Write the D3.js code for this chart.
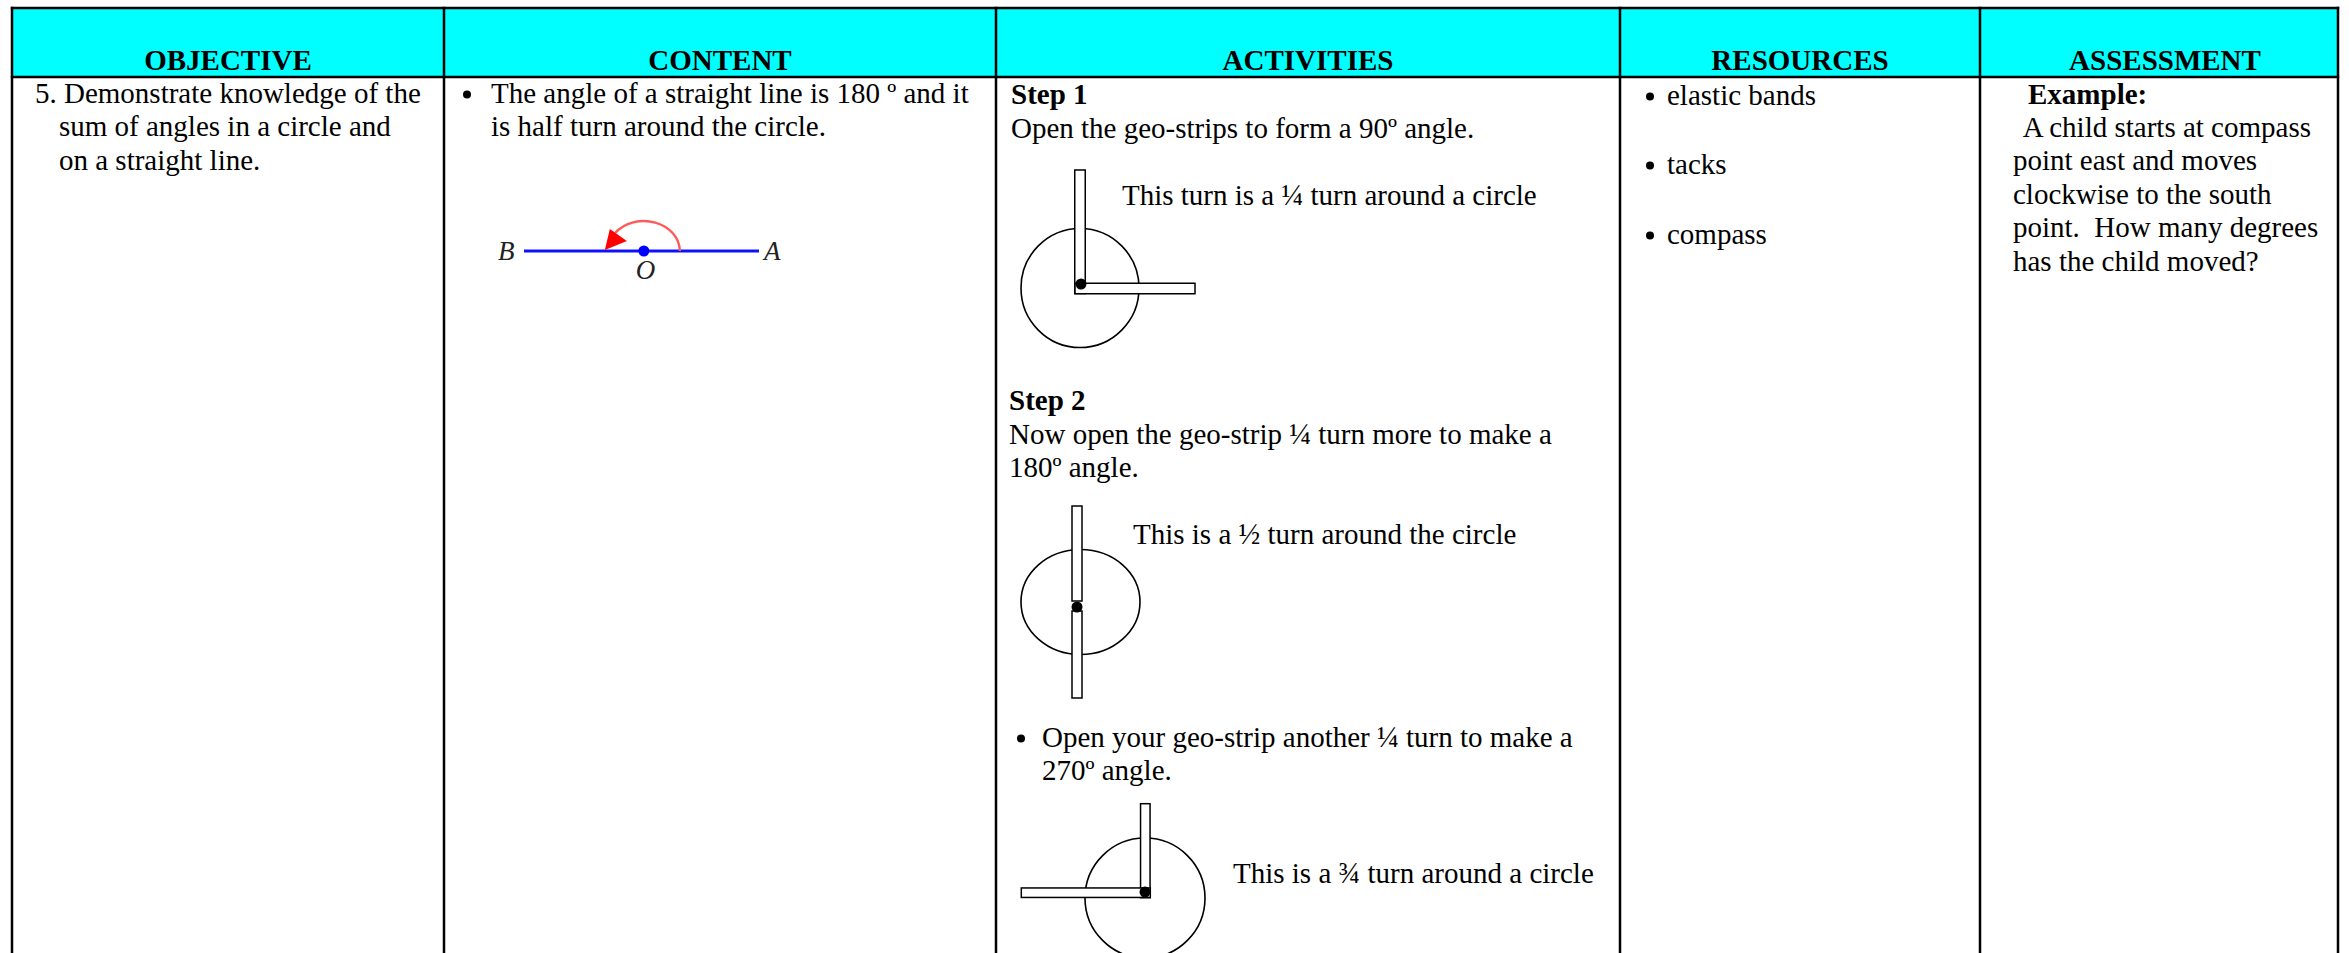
<!DOCTYPE html>
<html><head><meta charset="utf-8">
<script src="https://cdn.jsdelivr.net/npm/d3@7"></script>
<style>
body{margin:0;background:#fff}
svg{display:block}
text{font-family:"Liberation Serif","Times New Roman",serif;fill:#000;white-space:pre}
</style>
</head><body>
<svg id="c" width="2349" height="953"></svg>
<script>
// ---------- content (data) ----------
const headers = ["OBJECTIVE", "CONTENT", "ACTIVITIES", "RESOURCES", "ASSESSMENT"];
const objectiveLines = ["5. Demonstrate knowledge of the", "sum of angles in a circle and", "on a straight line."];
const contentLines = ["The angle of a straight line is 180 º and it", "is half turn around the circle."];
const lineLabels = ["B", "O", "A"];
const stepTitles = ["Step 1", "Step 2"];
const step1Lines = ["Open the geo-strips to form a 90º angle."];
const step2Lines = ["Now open the geo-strip ¼ turn more to make a", "180º angle."];
const step3Lines = ["Open your geo-strip another ¼ turn to make a", "270º angle."];
const turnAngles = [90, 180, 270];
const turnCaptions = ["This turn is a ¼ turn around a circle", "This is a ½ turn around the circle", "This is a ¾ turn around a circle"];
const resources = ["elastic bands", "tacks", "compass"];
const assessmentTitle = "Example:";
const assessmentLines = [" A child starts at compass", "point east and moves", "clockwise to the south", "point.  How many degrees", "has the child moved?"];

// ---------- layout ----------
const W = 2349, H = 953;
const svg = d3.select("#c");
const edges = [12, 444, 996, 1620, 1980, 2338];
const tableTop = 8, headBottom = 77;
const FS = 29, LH = 33.4;
const col = d3.scaleOrdinal().domain(headers).range(edges.slice(0, 5).map((e, i) => (e + edges[i + 1]) / 2));

svg.append("rect").attr("x", edges[0]).attr("y", tableTop).attr("width", edges[5] - edges[0]).attr("height", headBottom - tableTop).attr("fill", "#00ffff");

const g = svg.append("g");
headers.forEach((h, i) => {
  g.append("text").attr("x", col(h) + (i === 4 ? 6 : 0)).attr("y", 70).attr("text-anchor", "middle")
    .attr("font-size", FS).attr("font-weight", "bold").text(h);
});

function block(x, y, lines, opts = {}) {
  lines.forEach((t, i) => {
    g.append("text").attr("x", (i === 0 && opts.x0 !== undefined) ? opts.x0 : x).attr("y", y + i * (opts.lh || LH))
      .attr("font-size", FS).attr("font-weight", opts.bold ? "bold" : null).text(t);
  });
}
function bullet(x, y) {
  g.append("circle").attr("cx", x).attr("cy", y - 8.5).attr("r", 4).attr("fill", "#000");
}

// Objective
block(59, 103, objectiveLines, {x0: 35});
// Content
bullet(467, 103);
block(491, 103, contentLines);

// straight-line diagram
const lx = d3.scaleLinear().domain([0, 1]).range([524, 759]);
const ly = 251;
const cx = lx(0.51);
g.append("line").attr("x1", lx(0)).attr("x2", lx(1)).attr("y1", ly).attr("y2", ly)
  .attr("stroke", "#1010ff").attr("stroke-width", 3);
const arcRx = 36, arcRy = 30;
const pt = a => [cx + arcRx * Math.cos(a * Math.PI / 180), ly - arcRy * Math.sin(a * Math.PI / 180)];
const p0 = pt(0), p1 = pt(143);
g.append("path").attr("d", `M${p0[0]},${p0[1]} A${arcRx},${arcRy} 0 0 0 ${p1[0]},${p1[1]}`)
  .attr("fill", "none").attr("stroke", "#ff5a5a").attr("stroke-width", 2.4);
g.append("path").attr("d", `M${cx - 39},${ly - 1} L${cx - 34},${ly - 22} L${cx - 17},${ly - 10} Z`).attr("fill", "#ff0000");
g.append("circle").attr("cx", cx).attr("cy", ly).attr("r", 5.5).attr("fill", "#0000ff");
const lbl = [[lx(0) - 26, ly + 9], [cx - 8, ly + 28], [lx(1) + 5, ly + 9]];
lineLabels.forEach((t, i) => g.append("text").attr("x", lbl[i][0]).attr("y", lbl[i][1])
  .attr("font-size", 27).attr("font-style", "italic").style("fill", "#222").text(t));

// Activities
block(1011, 104, [stepTitles[0]], {bold: true});
block(1011, 138, step1Lines);
block(1009, 410, [stepTitles[1]], {bold: true});
block(1009, 444, step2Lines);
bullet(1021, 747);
block(1042, 747, step3Lines);

// geo-strip diagrams
const diagrams = [
  {px: 1080, py: 288.5, w: 10.5, L1: 118.5, L2: 115, o1: 5, o2: 5, ccx: 1080, ccy: 288, rx: 59, ry: 59.5, dot: [1081, 284], tx: 1122, ty: 205},
  {px: 1077, py: 606, w: 10, L1: 100, L2: 92, o1: -5, o2: -5, ccx: 1080.5, ccy: 602, rx: 59.5, ry: 52.5, dot: [1077, 607], tx: 1133, ty: 544},
  {px: 1145.3, py: 892.7, w: 9.5, L1: 89, L2: 124, o1: 5, o2: 5, ccx: 1145, ccy: 898, rx: 60, ry: 60, dot: [1145, 892], tx: 1233, ty: 883}
];
diagrams.forEach((d, i) => {
  const dg = g.append("g");
  dg.append("ellipse").attr("cx", d.ccx).attr("cy", d.ccy).attr("rx", d.rx).attr("ry", d.ry)
    .attr("fill", "none").attr("stroke", "#000").attr("stroke-width", 1.6);
  dg.append("rect").attr("x", d.px - d.w / 2).attr("y", d.py - d.L1).attr("width", d.w).attr("height", d.L1 + d.o1)
    .attr("fill", "#fff").attr("stroke", "#000").attr("stroke-width", 1.5);
  dg.append("rect").attr("x", d.px - d.w / 2).attr("y", d.py - d.L2).attr("width", d.w).attr("height", d.L2 + d.o2)
    .attr("transform", `rotate(${turnAngles[i]},${d.px},${d.py})`)
    .attr("fill", "#fff").attr("stroke", "#000").attr("stroke-width", 1.5);
  dg.append("circle").attr("cx", d.dot[0]).attr("cy", d.dot[1]).attr("r", 5.5).attr("fill", "#000");
  dg.append("text").attr("x", d.tx).attr("y", d.ty).attr("font-size", FS).text(turnCaptions[i]);
});

// Resources
const resY = [105, 174, 244];
resources.forEach((r, i) => { bullet(1650, resY[i]); block(1667, resY[i], [r]); });

// Assessment
block(2028, 104, [assessmentTitle], {bold: true});
block(2013, 137, assessmentLines, {x0: 2017});

// borders
const b = svg.append("g").attr("stroke", "#000").attr("stroke-width", 2.5);
b.append("line").attr("x1", edges[0] - 1.2).attr("x2", edges[5] + 1.2).attr("y1", tableTop).attr("y2", tableTop);
b.append("line").attr("x1", edges[0] - 1.2).attr("x2", edges[5] + 1.2).attr("y1", headBottom).attr("y2", headBottom);
edges.forEach(e => b.append("line").attr("x1", e).attr("x2", e).attr("y1", tableTop - 1.2).attr("y2", H));
</script>
</body></html>
